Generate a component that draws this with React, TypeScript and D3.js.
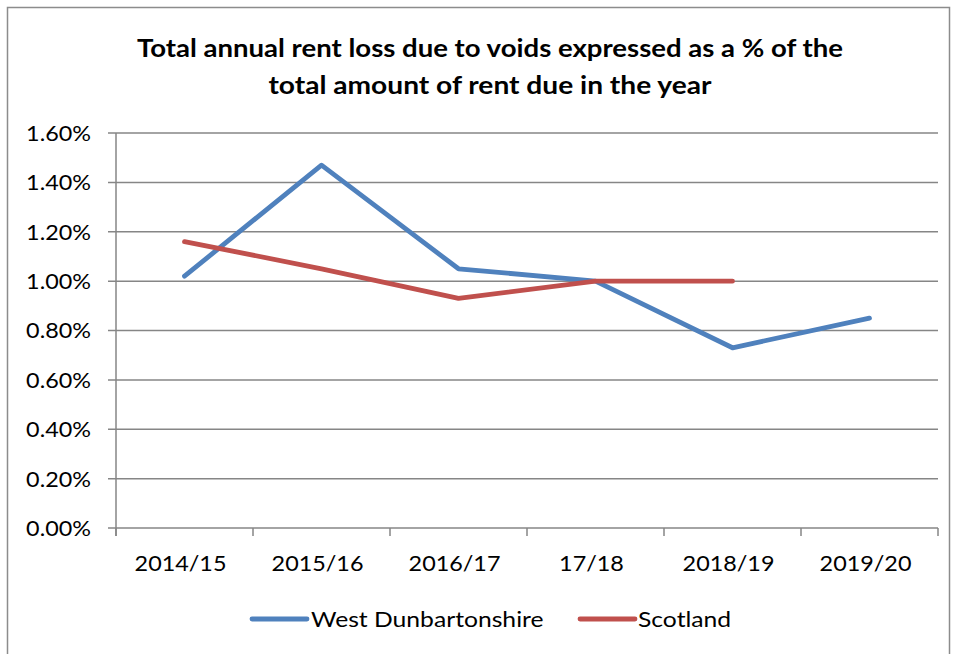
import React from "react";
import * as d3 from "d3";

const categories = ["2014/15", "2015/16", "2016/17", "17/18", "2018/19", "2019/20"];
const westDunbartonshire = [1.02, 1.47, 1.05, 1.0, 0.73, 0.85];
const scotland = [1.16, 1.05, 0.93, 1.0, 1.0, null];
const yTicks = [0, 0.2, 0.4, 0.6, 0.8, 1.0, 1.2, 1.4, 1.6];
const titleLines = [
  "Total annual rent loss due to voids expressed as a % of the",
  "total amount of rent due in the year",
];
const seriesNames = ["West Dunbartonshire", "Scotland"];
const seriesColors = ["#4F81BD", "#C0504D"];

const W = 954;
const H = 654;
const left = 116;
const right = 938;
const top = 133;
const bottom = 528;
const FONT = "Lato, 'Open Sans', sans-serif";

function SText({ x, y, anchor, size, sx, weight, children, fill = "#000" }: any) {
  return (
    <g transform={`translate(${x},${y}) scale(${sx},1)`}>
      <text
        x={0}
        y={0}
        textAnchor={anchor}
        dominantBaseline="central"
        fontFamily={FONT}
        fontSize={size}
        fontWeight={weight || "normal"}
        fill={fill}
      >
        {children}
      </text>
    </g>
  );
}

export default function App() {
  const x = d3.scaleBand<string>().domain(categories).range([left, right]);
  const y = d3.scaleLinear().domain([0, 1.6]).range([bottom, top]);
  const line = d3
    .line<number | null>()
    .defined((d) => d != null)
    .x((_, i) => (x(categories[i]) as number) + x.bandwidth() / 2)
    .y((d) => y(d as number));
  const series = [westDunbartonshire, scotland];
  const gridColor = "#868686";
  const boundaries = categories.map((c) => x(c) as number).concat([right]);

  return (
    <div style={{ position: "absolute", left: 0, top: 0 }}>
      <svg width={W} height={H} style={{ display: "block" }}>
        <rect x={0} y={0} width={W} height={H} fill="#fff" />
        <rect x={7.5} y={7.5} width={942} height={H} fill="none" stroke="#8c8c8c" strokeWidth={1.5} />
        {titleLines.map((t, i) => (
          <text
            key={i}
            x={490}
            y={47 + i * 37}
            textAnchor="middle"
            dominantBaseline="central"
            fontFamily={FONT}
            fontSize={24}
            fontWeight="bold"
            textLength={i === 0 ? 706 : 443}
            lengthAdjust="spacingAndGlyphs"
          >
            {t}
          </text>
        ))}
        {yTicks.map((t) => (
          <g key={t}>
            <line x1={108} x2={right} y1={y(t)} y2={y(t)} stroke={gridColor} strokeWidth={1.5} />
            <SText x={91} y={y(t)} anchor="end" size={20.5} sx={1.14}>
              {t.toFixed(2) + "%"}
            </SText>
          </g>
        ))}
        <line x1={left} x2={left} y1={top} y2={bottom + 8} stroke={gridColor} strokeWidth={1.5} />
        {boundaries.map((b, i) => (
          <line key={i} x1={b} x2={b} y1={bottom} y2={bottom + 8} stroke={gridColor} strokeWidth={1.5} />
        ))}
        {categories.map((c) => (
          <SText key={c} x={(x(c) as number) + x.bandwidth() / 2 - 4} y={563} anchor="middle" size={20.5} sx={1.14}>
            {c}
          </SText>
        ))}
        {series.map((s, i) => (
          <path
            key={i}
            d={line(s) || ""}
            fill="none"
            stroke={seriesColors[i]}
            strokeWidth={4.8}
            strokeLinecap="round"
            strokeLinejoin="round"
          />
        ))}
        {[
          { lx: 252, tx: 311 },
          { lx: 580, tx: 638 },
        ].map((p, i) => (
          <g key={i}>
            <line x1={p.lx} x2={p.lx + 55} y1={619} y2={619} stroke={seriesColors[i]} strokeWidth={4.8} strokeLinecap="round" />
            <SText x={p.tx} y={619} anchor="start" size={21} sx={1.175}>
              {seriesNames[i]}
            </SText>
          </g>
        ))}
      </svg>
    </div>
  );
}
